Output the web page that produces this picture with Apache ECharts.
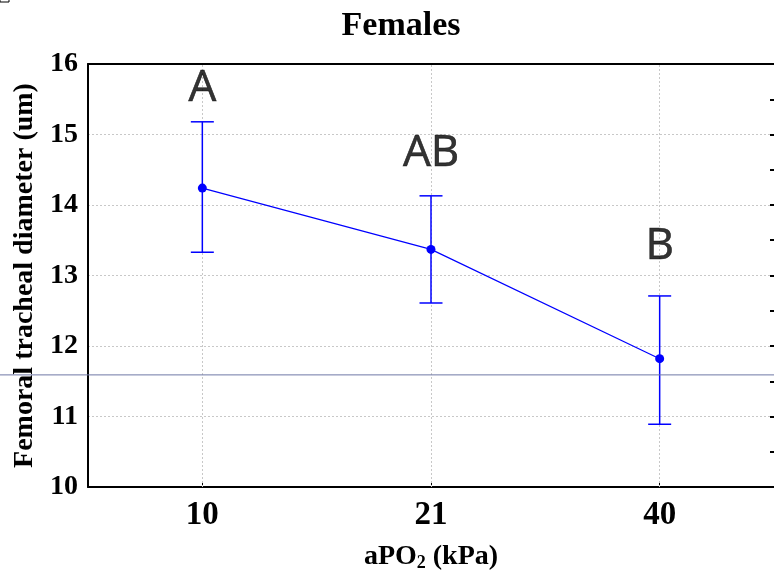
<!DOCTYPE html>
<html><head><meta charset="utf-8">
<script src="https://cdn.jsdelivr.net/npm/echarts@6/dist/echarts.min.js"></script>
<style>html,body{margin:0;padding:0;background:#fff}#c{width:774px;height:577px}</style>
</head><body><div id="c"></div>
<script>
var categories = ['10', '21', '40'];
var means = [14.24, 13.37, 11.82];
var upper = [15.18, 14.13, 12.71];
var lower = [13.33, 12.61, 10.89];
var letters = ['A', 'AB', 'B'];
var letterY = [15.65, 14.73, 13.41];
var refLineValue = 11.59;

var chart = echarts.init(document.getElementById('c'));
var serif = '"Liberation Serif","Times New Roman",serif';
var gridLine = {color: '#c8c8c8', type: [2, 2], width: 1};
var option = {
  animation: false,
  title: {text: 'Females', left: 396, textAlign: 'center', top: 4,
    textStyle: {fontFamily: serif, fontWeight: 'bold', fontSize: 34, color: '#000'}},
  grid: {left: 88, right: -2, top: 64, bottom: 90},
  xAxis: [{type: 'category', data: categories, boundaryGap: true,
    name: '{a|aPO}{s|2}{a| (kPa)}', nameLocation: 'middle', nameGap: 55,
    nameTextStyle: {rich: {
      a: {fontFamily: serif, fontWeight: 'bold', fontSize: 28, color: '#000'},
      s: {fontFamily: serif, fontWeight: 'bold', fontSize: 18, color: '#000', padding: [12, 0, 0, 0]}}},
    axisLine: {lineStyle: {color: '#000', width: 2}},
    axisTick: {show: true, inside: true, alignWithLabel: true, length: 5, lineStyle: {color: '#000'}},
    axisLabel: {fontFamily: serif, fontWeight: 'bold', fontSize: 33, color: '#000', margin: 12},
    splitLine: {show: false}
  }, {type: 'category', data: categories, position: 'top',
    axisLine: {lineStyle: {color: '#000', width: 2}},
    axisTick: {show: false}, axisLabel: {show: false}, splitLine: {show: false}
  }],
  yAxis: [{type: 'value', min: 10, max: 16, interval: 1,
    name: 'Femoral tracheal diameter (um)', nameLocation: 'middle', nameGap: 47, nameRotate: 90,
    nameTextStyle: {fontFamily: serif, fontWeight: 'bold', fontSize: 28, color: '#000'},
    axisLine: {show: true, lineStyle: {color: '#000', width: 2}},
    axisTick: {show: false},
    axisLabel: {fontFamily: serif, fontWeight: 'bold', fontSize: 28, color: '#000', margin: 10},
    splitLine: {show: true, lineStyle: gridLine}
  }, {type: 'value', min: 10, max: 16, interval: 0.5, position: 'right',
    axisLine: {show: false},
    axisTick: {show: true, inside: true, length: 4, lineStyle: {color: '#000', width: 2}},
    axisLabel: {show: false}, splitLine: {show: false}
  }],
  series: [
    {type: 'line', data: means, z: 1, showSymbol: false, silent: true,
      lineStyle: {opacity: 0}, itemStyle: {opacity: 0},
      markLine: {silent: true, symbol: 'none', label: {show: false},
        lineStyle: gridLine,
        data: categories.map(function (c) { return {xAxis: c}; })}},
    {type: 'line', data: means, symbol: 'circle', symbolSize: 9,
      lineStyle: {width: 1.2, color: '#0000ff'}, itemStyle: {color: '#0000ff'}, z: 6},
    {type: 'custom', z: 5,
      data: categories.map(function (c, i) { return [i, lower[i], upper[i]]; }),
      renderItem: function (params, api) {
        var lo = api.coord([api.value(0), api.value(1)]);
        var hi = api.coord([api.value(0), api.value(2)]);
        var w = 11.5;
        var st = {stroke: '#0000ff', lineWidth: 1.5};
        return {type: 'group', children: [
          {type: 'line', shape: {x1: lo[0], y1: lo[1], x2: hi[0], y2: hi[1]}, style: st},
          {type: 'line', shape: {x1: lo[0] - w, y1: lo[1], x2: lo[0] + w, y2: lo[1]}, style: st},
          {type: 'line', shape: {x1: hi[0] - w, y1: hi[1], x2: hi[0] + w, y2: hi[1]}, style: st}
        ]};
      }},
    {type: 'scatter', symbolSize: 0, data: letterY, z: 7,
      label: {show: true, position: 'inside', formatter: function (p) { return letters[p.dataIndex]; },
        fontFamily: '"Open Sans","Noto Sans",sans-serif', fontSize: 44, color: '#000',
        textBorderColor: '#000', textBorderWidth: 0.6}}
  ]
};
chart.setOption(option);
var yPix = chart.convertToPixel({yAxisIndex: 0}, refLineValue);
chart.setOption({graphic: [
  {type: 'line', shape: {x1: 0, y1: yPix, x2: 774, y2: yPix}, style: {stroke: '#6f78a6', lineWidth: 1}, z: 10},
  {type: 'rect', shape: {x: 0, y: -1, width: 9, height: 3}, style: {fill: 'none', stroke: '#000', lineWidth: 1}}
]});
</script></body></html>
